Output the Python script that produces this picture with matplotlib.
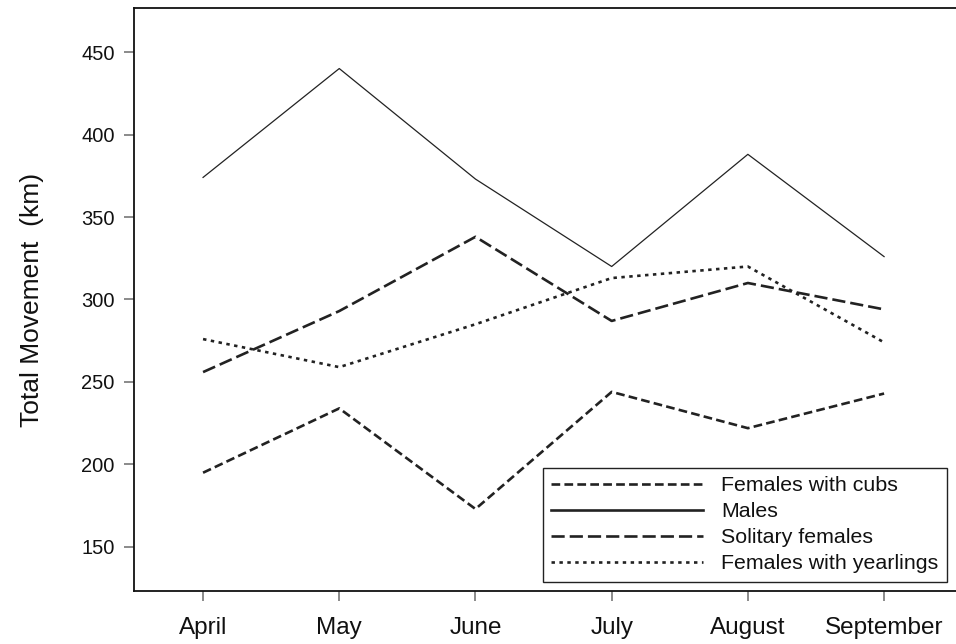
import matplotlib
matplotlib.use("Agg")
import matplotlib.pyplot as plt

plt.rcParams['font.family'] = ['Liberation Sans', 'DejaVu Sans']

months = ["April", "May", "June", "July", "August", "September"]
cubs = [195, 234, 173, 244, 222, 243]
males = [374, 440, 373, 320, 388, 326]
solitary = [256, 293, 338, 287, 310, 294]
yearlings = [276, 259, 285, 313, 320, 274]
yticks = [150, 200, 250, 300, 350, 400, 450]

fig = plt.figure(figsize=(9.56, 6.44), dpi=100)
ax = fig.add_axes([134 / 956, 1 - 591 / 644, 1 - 134 / 956, (591 - 8) / 644])

x = list(range(len(months)))
ink = "#222222"
ax.plot(x, cubs, color=ink, lw=1.9, linestyle=(0, (3.3, 1.6)), label="Females with cubs")
ax.plot(x, males, color=ink, lw=0.9, linestyle="-", label="Males")
ax.plot(x, solitary, color=ink, lw=1.9, linestyle=(0, (5.0, 1.9)), label="Solitary females")
ax.plot(x, yearlings, color=ink, lw=1.9, linestyle=(0, (1.3, 1.7)), label="Females with yearlings")

ax.set_xlim(-0.507, 5.528)
ax.set_ylim(123.3, 476.7)
ax.set_xticks(x)
ax.set_xticklabels(months, fontsize=17.5, color="#111111")
ax.set_yticks(yticks)
ax.set_yticklabels([str(v) for v in yticks], fontsize=14.5, color="#111111")
ax.tick_params(axis="y", direction="out", length=7, width=1.2, color="#777777", pad=7)
ax.tick_params(axis="x", direction="out", length=7, width=1.2, color="#777777", pad=12)

for side in ("left", "bottom", "top"):
    ax.spines[side].set_color("#111111")
    ax.spines[side].set_linewidth(1.3)
ax.spines["right"].set_visible(False)

ax.set_ylabel("Total Movement  (km)", fontsize=19, color="#111111", labelpad=27)

leg = ax.legend(loc="lower right", bbox_to_anchor=(947 / 956, 1 - 582 / 644),
                bbox_transform=fig.transFigure, borderaxespad=0,
                fontsize=15.4, handlelength=7.1, handletextpad=0.85,
                labelspacing=0.33, borderpad=0.4, fancybox=False,
                frameon=True, framealpha=1, edgecolor="#222222")
leg.get_frame().set_linewidth(1.0)
leg.get_lines()[1].set_linewidth(1.9)
for t in leg.get_texts():
    t.set_color("#111111")

fig.savefig("out.png", dpi=100)
